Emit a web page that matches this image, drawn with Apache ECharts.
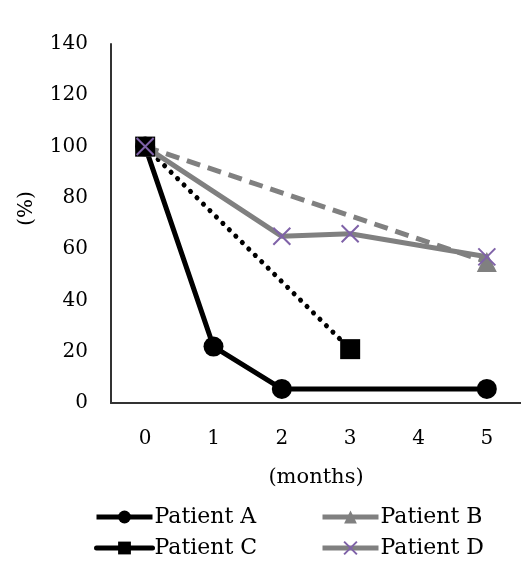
<!DOCTYPE html>
<html>
<head>
<meta charset="utf-8">
<script src="https://cdn.jsdelivr.net/npm/echarts@6/dist/echarts.min.js"></script>
<style>
  html, body { margin: 0; padding: 0; background: #fff; }
  #main { width: 521px; height: 564px; }
</style>
</head>
<body>
<div id="main"></div>
<script>
  // months
  var months = ['0', '1', '2', '3', '4', '5']
  var yTicks = [0, 20, 40, 60, 80, 100, 120, 140]
  // % values, null where no measurement
  var patientA = [100, 22, 5.5, null, null, 5.5]
  var patientB = [100, null, null, null, null, 55]
  var patientC = [100, null, null, 21, null, null]
  var patientD = [100, null, 65, 66, null, 57]

  var font = 'DejaVu Serif'
  var xMark = 'path://M0,0L10,10M10,0L0,10'

  var chart = echarts.init(document.getElementById('main'))

  function legendItem (name, lineColor) {
    return {name: name, lineStyle: {type: 'solid', width: 5, color: lineColor}}
  }

  function legendCol (left, items) {
    return {
      orient: 'vertical',
      left: left,
      top: 506,
      height: 120,
      padding: 0,
      itemWidth: 56,
      itemHeight: 16,
      itemGap: 9,
      textStyle: {fontFamily: font, fontSize: 22, color: '#000', padding: [0, 0, 0, -3]},
      data: items
    }
  }

  var options = {
    animation: false,
    textStyle: {fontFamily: font, color: '#000'},
    grid: {left: 111, right: -3, top: 44, bottom: 161},
    legend: [
      legendCol(94, [legendItem('Patient A', '#000'), legendItem('Patient C', '#000')]),
      legendCol(320, [legendItem('Patient B', '#808080'), legendItem('Patient D', '#808080')])
    ],
    xAxis: {
      type: 'category',
      data: months,
      boundaryGap: true,
      name: '(months)',
      nameLocation: 'middle',
      nameGap: 64,
      nameTextStyle: {fontFamily: font, fontSize: 21, color: '#000'},
      axisLine: {lineStyle: {color: '#333', width: 2}},
      axisTick: {show: false},
      axisLabel: {fontFamily: font, fontSize: 20, color: '#000', margin: 26},
      splitLine: {show: false}
    },
    yAxis: {
      type: 'value',
      min: yTicks[0],
      max: yTicks[yTicks.length - 1],
      interval: 20,
      name: '(%)',
      nameLocation: 'middle',
      nameGap: 74,
      nameTextStyle: {fontFamily: font, fontSize: 20, color: '#000', padding: [0, 0, 0, 30]},
      axisLine: {show: true, lineStyle: {color: '#333', width: 2}},
      axisTick: {show: false},
      axisLabel: {fontFamily: font, fontSize: 20, color: '#000', margin: 23},
      splitLine: {show: false}
    },
    series: [{
      name: 'Patient A',
      type: 'line',
      data: patientA,
      connectNulls: true,
      symbol: 'circle',
      symbolSize: 20,
      itemStyle: {color: '#000'},
      lineStyle: {color: '#000', width: 5}
    }, {
      name: 'Patient B',
      type: 'line',
      data: patientB,
      connectNulls: true,
      symbol: 'triangle',
      symbolSize: 20,
      itemStyle: {color: '#808080'},
      lineStyle: {color: '#808080', width: 5, type: [14, 8]}
    }, {
      name: 'Patient C',
      type: 'line',
      data: patientC,
      connectNulls: true,
      symbol: 'rect',
      symbolSize: 20,
      itemStyle: {color: '#000'},
      lineStyle: {color: '#000', width: 5, type: [0.1, 9], cap: 'round'}
    }, {
      name: 'Patient D',
      type: 'line',
      data: patientD,
      connectNulls: true,
      symbol: xMark,
      symbolSize: 17,
      itemStyle: {color: 'rgba(0,0,0,0)', borderColor: '#7f62a8', borderWidth: 2},
      lineStyle: {color: '#808080', width: 5}
    }]
  }

  chart.setOption(options)
</script>
</body>
</html>
